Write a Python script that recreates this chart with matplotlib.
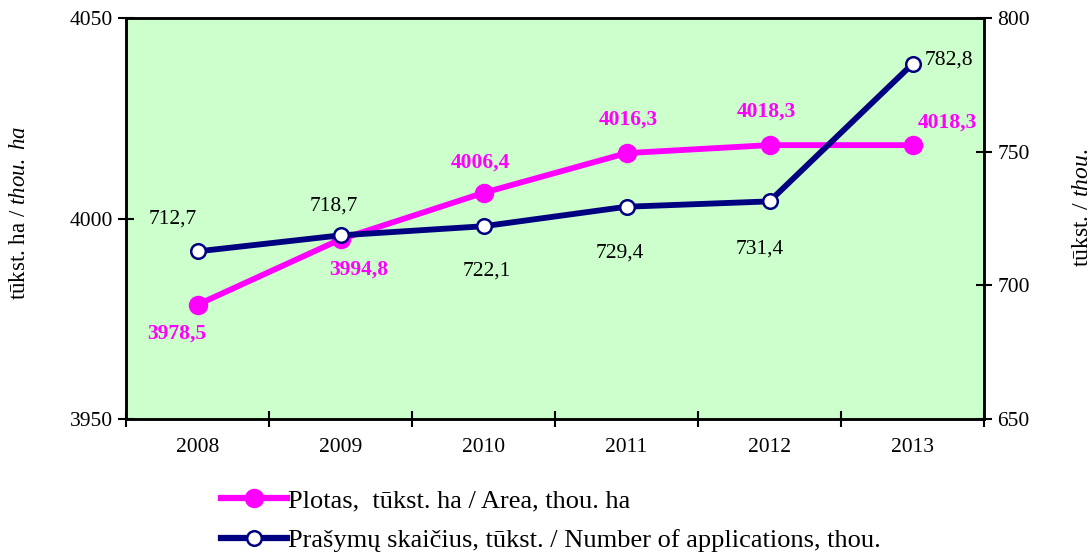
import numpy as np
import matplotlib
matplotlib.use('Agg')
import matplotlib.pyplot as plt
from matplotlib.lines import Line2D

plt.rcParams['font.family'] = ['Liberation Serif', 'DejaVu Serif']
plt.rcParams['mathtext.fontset'] = 'custom'
plt.rcParams['mathtext.rm'] = 'Liberation Serif'
plt.rcParams['mathtext.it'] = 'Liberation Serif:italic'

years = ['2008', '2009', '2010', '2011', '2012', '2013']
area = [3978.5, 3994.8, 4006.4, 4016.3, 4018.3, 4018.3]
applications = [712.7, 718.7, 722.1, 729.4, 731.4, 782.8]
area_labels = ['3978,5', '3994,8', '4006,4', '4016,3', '4018,3', '4018,3']
app_labels = ['712,7', '718,7', '722,1', '729,4', '731,4', '782,8']

pink = '#FF00FF'
navy = '#000080'
fs = 15.5

fig = plt.figure(figsize=(10.91, 5.53), dpi=100)
ax = fig.add_axes([126/1091, 1 - 419/553, 858/1091, 401/553])
ax.set_facecolor('#CCFFCC')
ax2 = ax.twinx()

x = np.arange(len(years))
ax.plot(x, area, color=pink, lw=4.2, marker='o', ms=13, mfc=pink, mec=pink, zorder=2)
ax2.plot(x, applications, color=navy, lw=4.2, marker='o', ms=10.5, mfc='white',
         mec=navy, mew=1.8, zorder=3)

ax.set_xlim(-0.5, 5.5)
ax.set_ylim(3950, 4050)
ax2.set_ylim(650, 800)
ax.set_yticks([3950, 4000, 4050])
ax2.set_yticks([650, 700, 750, 800])
ax.set_xticks(np.arange(-0.5, 6.0, 1.0))
ax.set_xticklabels([])
ax.set_xticks(x, minor=True)
ax.set_xticklabels(years, minor=True, fontsize=fs)
ax.tick_params(axis='x', which='minor', length=0, pad=14)
ax.tick_params(axis='x', which='major', direction='inout', length=11, width=1.5)
ax.tick_params(axis='y', direction='inout', length=11, width=1.5, labelsize=fs, pad=4)
ax2.tick_params(axis='y', direction='inout', length=11, width=1.5, labelsize=fs, pad=4)
for a in (ax, ax2):
    for s in a.spines.values():
        s.set_linewidth(1.8)
ax.set_zorder(1)
ax2.set_zorder(2)
ax2.patch.set_visible(False)

# label offsets in points
area_off = [(-15, -21), (13, -22), (-2, 22), (1, 24), (-2, 24), (25, 16)]
for xi, v, t, off in zip(x, area, area_labels, area_off):
    ax.annotate(t, (xi, v), xytext=off, textcoords='offset points', ha='center',
                va='center', color=pink, fontweight='bold', fontsize=fs, zorder=5)

app_off = [(-18, 23), (-5, 21), (2, -32), (-5, -33), (-7, -34), (26, 3)]
for xi, v, t, off in zip(x, applications, app_labels, app_off):
    ax2.annotate(t, (xi, v), xytext=off, textcoords='offset points', ha='center',
                 va='center', color='black', fontsize=fs, zorder=5)

fig.text(20/1091, 1 - 213/553, 'tūkst. ha / $\\mathit{thou.\\ ha}$', rotation=90,
         ha='center', va='center', fontsize=16.5)
fig.text(1082/1091, 1 - 208/553, 'tūkst. / $\\mathit{thou.}$', rotation=90,
         ha='center', va='center', fontsize=17)

handles = [
    Line2D([], [], color=pink, lw=4.5, marker='o', ms=13, mfc=pink, mec=pink),
    Line2D([], [], color=navy, lw=4.5, marker='o', ms=10.5, mfc='white', mec=navy, mew=1.8),
]
labels = ['Plotas,  tūkst. ha / Area, thou. ha',
          'Prašymų skaičius, tūkst. / Number of applications, thou.']
fig.legend(handles, labels, loc='upper left', bbox_to_anchor=(210/1091, 1 - 478/553),
           frameon=False, fontsize=19, handlelength=2.5, handletextpad=0.05,
           labelspacing=0.62, borderaxespad=0)

fig.savefig('out.png', dpi=100)
